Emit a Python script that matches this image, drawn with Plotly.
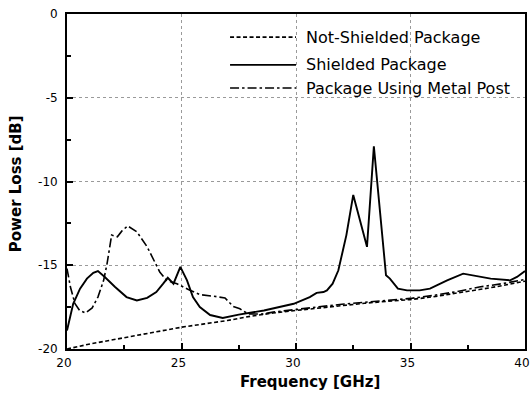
import plotly.graph_objects as go

# ---------------- data ----------------
ns_freq = [20, 21, 22, 23, 24, 25, 26, 27, 28, 29, 30, 31, 32, 33, 34, 35, 36, 37, 38, 39, 40]
ns_loss = [-20.0, -19.7, -19.45, -19.2, -18.95, -18.7, -18.5, -18.3, -18.05, -17.85, -17.7,
           -17.55, -17.4, -17.27, -17.15, -17.05, -16.88, -16.68, -16.45, -16.22, -15.95]

sh_freq = [20, 20.27, 20.57, 20.87, 21.15, 21.35, 21.65, 22.1, 22.6, 23.05, 23.5, 23.9, 24.2,
           24.4, 24.65, 24.95, 25.24, 25.5, 25.8, 26.25, 26.8, 27.5, 28.6, 29.3, 29.9, 30.6,
           30.9, 31.2, 31.35, 31.6, 31.85, 32.05, 32.2, 32.5, 33.1, 33.4, 33.93, 34.1, 34.45,
           34.85, 35.4, 35.85, 36.6, 37.3, 37.7, 38.5, 39.35, 39.65, 40]
sh_loss = [-18.9, -17.3, -16.4, -15.8, -15.45, -15.35, -15.7, -16.3, -16.9, -17.1, -16.95,
           -16.6, -16.1, -15.75, -16.1, -15.1, -15.9, -16.9, -17.5, -17.97, -18.15, -17.95,
           -17.7, -17.5, -17.3, -16.9, -16.65, -16.6, -16.5, -16.1, -15.3, -14.1, -13.2,
           -10.8, -13.9, -7.9, -15.6, -15.8, -16.4, -16.5, -16.5, -16.4, -15.9, -15.5, -15.6,
           -15.8, -15.9, -15.7, -15.35]

mp_freq = [20, 20.15, 20.35, 20.55, 20.8, 21.1, 21.35, 21.6, 21.75, 21.95, 22.2, 22.4, 22.65,
           23.05, 23.5, 23.75, 24.05, 24.35, 24.8, 25.3, 25.8, 26.4, 26.9, 27.25, 27.55, 27.9,
           28.5, 29, 30, 31, 32, 33, 34, 35, 36, 37, 38, 39, 40]
mp_loss = [-15.2, -16.3, -17.3, -17.7, -17.85, -17.55, -16.9, -15.9, -14.9, -13.2, -13.3,
           -12.95, -12.65, -13.0, -13.9, -14.6, -15.4, -15.9, -16.1, -16.45, -16.75, -16.85,
           -16.95, -17.45, -17.6, -17.9, -17.92, -17.8, -17.62, -17.48, -17.33, -17.2, -17.1,
           -16.98, -16.8, -16.58, -16.3, -16.1, -15.85]

series_names = ["Not-Shielded Package", "Shielded Package", "Package Using Metal Post"]
x_ticks = [20, 25, 30, 35, 40]
y_ticks = [0, -5, -10, -15, -20]

# ---------------- styles ----------------
dashes = ["4px,2.5px", "solid", "9px,3px,2.5px,3px"]
widths = [1.6, 1.9, 1.6]

fig = go.Figure()
for fx, fy, name, d, w in zip([ns_freq, sh_freq, mp_freq], [ns_loss, sh_loss, mp_loss],
                              series_names, dashes, widths):
    fig.add_trace(go.Scatter(x=fx, y=fy, mode="lines", name=name,
                             line=dict(color="black", width=w, dash=d),
                             showlegend=False))

font_fam = "DejaVu Sans"

# Manual legend (no box), paper coords
leg_y = [0.931, 0.848, 0.779]
for yy, name, d, w in zip(leg_y, series_names, dashes, widths):
    fig.add_shape(type="line", xref="paper", yref="paper", x0=0.356, x1=0.5, y0=yy, y1=yy,
                  line=dict(color="black", width=w, dash=d))
    fig.add_annotation(xref="paper", yref="paper", x=0.518, y=yy, text=name, showarrow=False,
                       xanchor="left", yanchor="middle",
                       font=dict(family=font_fam, size=16, color="black"))

# Axis titles
fig.add_annotation(xref="paper", yref="paper", x=0.5306, y=-0.0985, text="<b>Frequency [GHz]</b>",
                   showarrow=False, xanchor="center", yanchor="middle",
                   font=dict(family=font_fam, size=15, color="black"))
fig.add_annotation(xref="paper", yref="paper", x=-0.111, y=0.4925, text="<b>Power Loss [dB]</b>",
                   showarrow=False, xanchor="center", yanchor="middle", textangle=-90,
                   font=dict(family=font_fam, size=15, color="black"))

axis_common = dict(
    showline=True, linecolor="black", linewidth=1.8, mirror=True,
    showgrid=True, gridcolor="#9a9a9a", gridwidth=1, griddash="dot",
    zeroline=False, ticks="inside", ticklen=6, tickwidth=1.8, tickcolor="black",
    tickfont=dict(family=font_fam, size=12, color="black"),
    ticklabeloverflow="allow", automargin=False,
)

fig.update_xaxes(range=[20, 40], tickvals=x_ticks, ticktext=[str(v) for v in x_ticks],
                 minor=dict(dtick=2.5, ticks="inside", ticklen=4, tickcolor="black", showgrid=False),
                 ticklabelstandoff=2, ticklabelshift=-3,
                 **axis_common)
fig.update_yaxes(range=[-20, 0], tickvals=y_ticks, ticktext=[str(v) for v in y_ticks],
                 minor=dict(dtick=2.5, ticks="inside", ticklen=4, tickcolor="black", showgrid=False),
                 ticklabelstandoff=5,
                 **axis_common)

fig.update_layout(
    width=530, height=399,
    margin=dict(l=67, r=5, t=14, b=50, autoexpand=False),
    paper_bgcolor="white", plot_bgcolor="white",
    font=dict(family=font_fam, color="black"),
    showlegend=False,
)

fig.write_html("out.html")
